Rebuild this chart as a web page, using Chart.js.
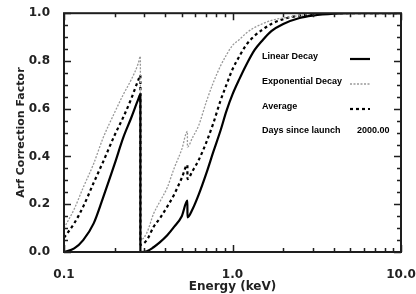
<!DOCTYPE html>
<html>
<head>
    <title>Arf Correction Factor</title>
    <script src="https://cdn.jsdelivr.net/npm/chart.js"></script>
    <style>
        body { margin: 0; background: #fff; }
    </style>
</head>
<body>
    <canvas id="arfChart" width="416" height="294"></canvas>

    <script>
        // energies in keV (edges repeated so the curves drop vertically)
        const energy = [0.1, 0.115, 0.13, 0.15, 0.17, 0.2, 0.225, 0.25, 0.276, 0.284, 0.2841,
            0.31, 0.34, 0.37, 0.41, 0.45, 0.5, 0.54, 0.5401, 0.58, 0.63, 0.7, 0.77, 0.85,
            0.92, 1.0, 1.1, 1.2, 1.35, 1.5, 1.7, 2.0, 2.5, 3.0, 4.0, 5.0, 10.0];
        const linearDecay = [0.0, 0.015, 0.05, 0.12, 0.225, 0.37, 0.48, 0.56, 0.64, 0.66, 0.0,
            0.003, 0.02, 0.04, 0.07, 0.105, 0.15, 0.215, 0.145, 0.18, 0.24, 0.33, 0.42, 0.51,
            0.59, 0.66, 0.725, 0.78, 0.845, 0.885, 0.925, 0.955, 0.98, 0.99, 0.998, 1.0, 1.0];
        const expDecay = [0.10, 0.18, 0.27, 0.37, 0.475, 0.585, 0.66, 0.72, 0.79, 0.82, 0.05,
            0.08, 0.16, 0.21, 0.27, 0.35, 0.43, 0.505, 0.44, 0.48, 0.53, 0.63, 0.71, 0.78,
            0.825, 0.865, 0.89, 0.915, 0.94, 0.955, 0.97, 0.98, 0.99, 0.997, 1.0, 1.0, 1.0];
        const average = [0.06, 0.12, 0.19, 0.29, 0.375, 0.49, 0.565, 0.64, 0.72, 0.74, 0.03,
            0.05, 0.105, 0.14, 0.19, 0.24, 0.31, 0.365, 0.305, 0.34, 0.385, 0.46, 0.54, 0.635,
            0.70, 0.765, 0.82, 0.865, 0.905, 0.93, 0.955, 0.975, 0.99, 0.995, 1.0, 1.0, 1.0];

        const xMajor = [0.1, 1, 10];
        const xMinor = [0.2, 0.3, 0.4, 0.5, 0.6, 0.7, 0.8, 0.9, 2, 3, 4, 5, 6, 7, 8, 9];
        const yMajor = [0, 0.2, 0.4, 0.6, 0.8, 1.0];
        const legendLabels = ['Linear Decay', 'Exponential Decay', 'Average'];
        const daysLabel = 'Days since launch';
        const daysValue = '2000.00';

        const pts = ys => energy.map((e, i) => ({ x: e, y: ys[i] }));

        // IDL style box, inward ticks and the text legend
        const idlFrame = {
            id: 'idlFrame',
            afterDraw(chart) {
                const ctx = chart.ctx;
                const a = chart.chartArea;
                const xs = chart.scales.x, ys = chart.scales.y;
                ctx.save();
                ctx.setLineDash([]);
                ctx.strokeStyle = '#1e1e1e';
                ctx.lineWidth = 2;
                ctx.strokeRect(a.left, a.top, a.right - a.left, a.bottom - a.top);

                ctx.lineWidth = 1.5;
                ctx.beginPath();
                xMajor.concat(xMinor).forEach(v => {
                    const len = xMajor.includes(v) ? 7 : 4;
                    const px = Math.round(xs.getPixelForValue(v)) + 0.5;
                    ctx.moveTo(px, a.bottom); ctx.lineTo(px, a.bottom - len);
                    ctx.moveTo(px, a.top); ctx.lineTo(px, a.top + len);
                });
                for (let k = 0; k <= 20; k++) {
                    const len = k % 4 === 0 ? 7 : 4;
                    const py = Math.round(ys.getPixelForValue(k * 0.05)) + 0.5;
                    ctx.moveTo(a.left, py); ctx.lineTo(a.left + len, py);
                    ctx.moveTo(a.right, py); ctx.lineTo(a.right - len, py);
                }
                ctx.stroke();

                // legend inside the plot
                ctx.font = 'bold 9px "Liberation Sans"';
                ctx.fillStyle = '#000';
                ctx.textBaseline = 'middle';
                const tx = 262, sx = 350, rowY = [57, 82, 107, 131];
                chart.data.datasets.forEach((ds, i) => {
                    ctx.fillText(legendLabels[i], tx, rowY[i]);
                    ctx.beginPath();
                    ctx.strokeStyle = ds.borderColor;
                    ctx.lineWidth = ds.borderWidth;
                    ctx.setLineDash(ds.borderDash || []);
                    ctx.moveTo(sx, rowY[i] + 2); ctx.lineTo(sx + 20, rowY[i] + 2);
                    ctx.stroke();
                });
                ctx.setLineDash([]);
                ctx.fillText(daysLabel, tx, rowY[3]);
                ctx.fillText(daysValue, sx + 7, rowY[3]);
                ctx.restore();
            }
        };

        const tickFont = { family: 'DejaVu Sans', size: 12, weight: 'bold' };

        new Chart(document.getElementById('arfChart'), {
            type: 'line',
            data: {
                datasets: [
                    { label: 'Linear Decay', data: pts(linearDecay), borderColor: '#000', borderWidth: 2.2 },
                    { label: 'Exponential Decay', data: pts(expDecay), borderColor: '#999', borderWidth: 1.3, borderDash: [2, 1.5] },
                    { label: 'Average', data: pts(average), borderColor: '#000', borderWidth: 2.2, borderDash: [3, 3] }
                ]
            },
            options: {
                responsive: false,
                animation: false,
                elements: { point: { radius: 0 }, line: { cubicInterpolationMode: 'monotone', fill: false } },
                layout: { padding: { top: 11, right: 15, left: 0, bottom: 0 } },
                plugins: { legend: { display: false }, tooltip: { enabled: false } },
                scales: {
                    x: {
                        type: 'logarithmic',
                        min: 0.1, max: 10,
                        grid: { display: false },
                        border: { display: false },
                        afterBuildTicks: s => { s.ticks = xMajor.map(v => ({ value: v })); },
                        afterFit: s => { s.height = 42; s.paddingLeft = 0; s.paddingRight = 0; },
                        ticks: {
                            padding: 8, maxRotation: 0, autoSkip: false,
                            color: '#222', font: tickFont,
                            callback: v => Number(v).toFixed(1)
                        },
                        title: {
                            display: true, text: 'Energy (keV)', color: '#222',
                            font: tickFont, padding: { top: 0, bottom: 0 }
                        }
                    },
                    y: {
                        min: 0, max: 1,
                        grid: { display: false },
                        border: { display: false },
                        afterBuildTicks: s => { s.ticks = yMajor.map(v => ({ value: v })); },
                        afterFit: s => { s.width = 64; },
                        ticks: {
                            padding: 6, color: '#222', font: tickFont,
                            callback: v => Number(v).toFixed(1)
                        },
                        title: {
                            display: true, text: 'Arf Correction Factor', color: '#222',
                            font: { family: 'DejaVu Sans', size: 11, weight: 'bold' }, padding: { top: 15, bottom: 0 }
                        }
                    }
                }
            },
            plugins: [idlFrame]
        });
    </script>
</body>
</html>
